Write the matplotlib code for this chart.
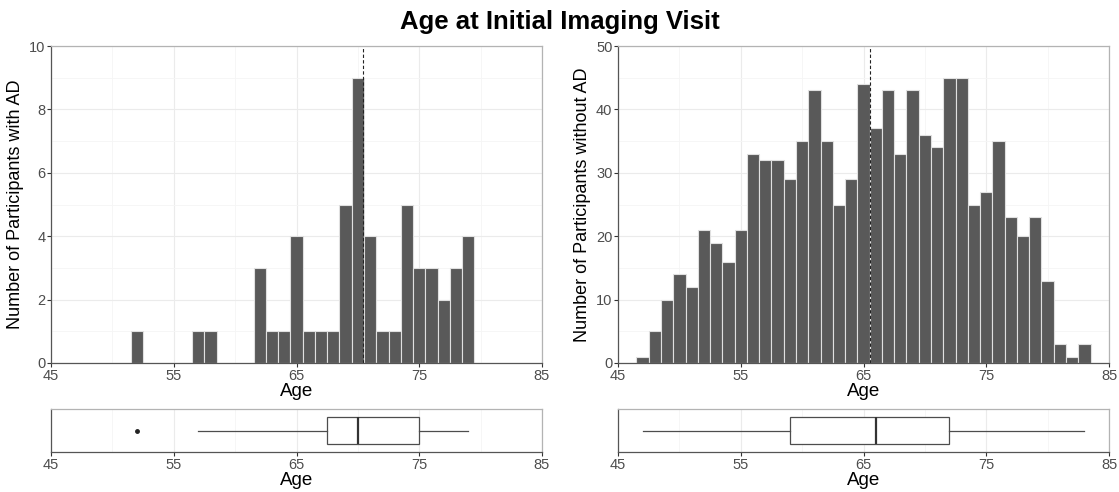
import numpy as np
import matplotlib
matplotlib.use("Agg")
import matplotlib.pyplot as plt

plt.rcParams['font.family'] = ['Liberation Sans', 'DejaVu Sans']

# histogram counts per integer age
ad_ages = [52, 57, 58, 62, 63, 64, 65, 66, 67, 68, 69, 70, 71, 72, 73, 74, 75, 76, 77, 78, 79]
ad_counts = [1, 1, 1, 3, 1, 1, 4, 1, 1, 1, 5, 9, 4, 1, 1, 5, 3, 3, 2, 3, 4]

noad_ages = list(range(47, 84))
noad_counts = [1, 5, 10, 14, 12, 21, 19, 16, 21, 33, 32, 32, 29, 35, 43, 35, 25, 29, 44,
               37, 43, 33, 43, 36, 34, 45, 45, 25, 27, 35, 23, 20, 23, 13, 3, 1, 3]

xticks = [45, 55, 65, 75, 85]
bar_col = '#595959'
dark = '#333333'
light_border = '#b3b3b3'
grid_col = '#ebebeb'


def style_axes(ax, ylim, ymajor, yminor):
    ax.set_xlim(45, 85)
    ax.set_ylim(*ylim)
    ax.set_xticks(xticks)
    ax.set_xticks([50, 60, 70, 80], minor=True)
    if ymajor is not None:
        ax.set_yticks(ymajor)
        ax.set_yticks(yminor, minor=True)
    ax.grid(True, which='major', color=grid_col, lw=0.8)
    ax.grid(True, which='minor', color='#f5f5f5', lw=0.6)
    ax.set_axisbelow(True)
    for s in ['top', 'right']:
        ax.spines[s].set_color(light_border)
    for s in ['left', 'bottom']:
        ax.spines[s].set_color('#555555')
    for s in ax.spines.values():
        s.set_linewidth(0.9)
    ax.tick_params(which='major', length=3, color=dark, labelsize=10.5, labelcolor='#4d4d4d', pad=1)
    ax.tick_params(which='minor', length=0)


def draw_hist(ax, ages, counts, ylim, step, ylabel):
    ax.bar(ages, counts, width=1.0, color=bar_col, edgecolor='#e0e0e0', linewidth=0.8)
    data = np.repeat(ages, counts)
    ax.axvline(data.mean(), color='#222222', lw=0.8, ls=(0, (3, 2)))
    style_axes(ax, ylim, np.arange(0, ylim[1] + 0.1, step), np.arange(step / 2, ylim[1], step))
    ax.set_xlabel('Age', fontsize=13.5, labelpad=0)
    ax.set_ylabel(ylabel, fontsize=13, labelpad=4)


def draw_box(ax, ages, counts):
    data = np.repeat(ages, counts)
    ax.boxplot(data, vert=False, widths=0.75, positions=[0], patch_artist=True,
               boxprops=dict(facecolor='white', edgecolor='#4d4d4d', lw=0.9),
               medianprops=dict(color='#333333', lw=1.6),
               whiskerprops=dict(color='#4d4d4d', lw=0.9),
               capprops=dict(lw=0),
               flierprops=dict(marker='o', markersize=2.5, markerfacecolor='#222222',
                               markeredgecolor='#222222'))
    style_axes(ax, (-0.6, 0.6), None, None)
    ax.set_yticks([])
    ax.grid(False, axis='y', which='both')
    ax.set_xlabel('Age', fontsize=13.5, labelpad=0)


fig = plt.figure(figsize=(11.19, 4.92), dpi=100)
W, H = 1119, 492


def add_ax(x0, y0, x1, y1):
    return fig.add_axes([x0 / W, 1 - y1 / H, (x1 - x0) / W, (y1 - y0) / H])


ax1 = add_ax(51, 46, 542, 363)
ax2 = add_ax(618, 46, 1109, 363)
ax3 = add_ax(51, 409, 542, 452)
ax4 = add_ax(618, 409, 1109, 452)

draw_hist(ax1, ad_ages, ad_counts, (0, 10), 2, 'Number of Participants with AD')
draw_hist(ax2, noad_ages, noad_counts, (0, 50), 10, 'Number of Participants without AD')
draw_box(ax3, ad_ages, ad_counts)
draw_box(ax4, noad_ages, noad_counts)

fig.text(0.5, 1 - 22 / H, 'Age at Initial Imaging Visit', ha='center', va='center',
         fontsize=18.5, fontweight='bold')

fig.savefig('out.png', dpi=100)
